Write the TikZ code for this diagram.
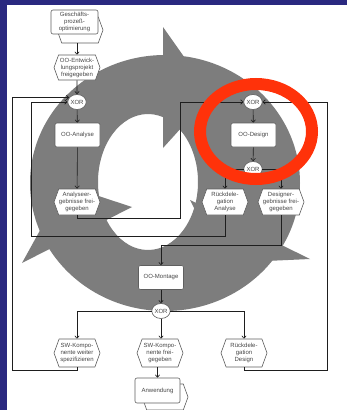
\documentclass[tikz,border=0pt]{standalone}
\usepackage{fontspec}
\setmainfont{Liberation Sans}
\usetikzlibrary{shapes.symbols,shapes.geometric,arrows.meta,calc}

\definecolor{bluebg}{RGB}{42,41,128}
\definecolor{cycgray}{RGB}{125,125,125}
\definecolor{boxline}{RGB}{95,95,95}
\definecolor{wire}{RGB}{30,30,30}
\definecolor{txt}{RGB}{70,70,70}
\definecolor{redring}{RGB}{255,50,10}

\begin{document}
\begin{tikzpicture}[x=1pt,y=-1pt,
  every node/.style={font=\fontsize{6}{7}\selectfont, text=txt, align=center, inner sep=0pt},
  func/.style={draw=boxline, fill=white, rounded corners=2pt, minimum width=45pt, minimum height=24pt, line width=0.6pt},
  event/.style={draw=boxline, fill=white, shape=signal, signal to=east and west, signal pointer angle=140, minimum width=46pt, minimum height=26pt, line width=0.6pt},
  xor/.style={draw=boxline, fill=white, ellipse, minimum width=18pt, minimum height=15pt, line width=0.6pt},
  link/.style={draw=wire, line width=0.6pt, -{Straight Barb[length=2.5pt,width=4.5pt]}}]

% frame
\useasboundingbox (0,0) rectangle (347,410);
\fill[bluebg] (0,0) rectangle (347,410);
\fill[white] (7,5) rectangle (347,410);

% cycle of three arrows behind the process chain
\fill[cycgray, even odd rule] (165,183) ellipse [x radius=135pt, y radius=128pt]
  (148,182) ellipse [x radius=50pt, y radius=68pt];
\fill[cycgray] (163,27) -- (211,95) -- (163,148) -- cycle;
\fill[cycgray] (310,259) -- (190,200) -- (222,263) -- cycle;
\fill[cycgray] (22,263) -- (132,207) -- (65,185) -- cycle;

% process interfaces
\node[event] (gpoH) at (80,30) {};
\node[func, minimum width=47pt] (gpo) at (74.5,22) {Geschäfts-\\prozeß-\\optimierung};
\node[event] (anwH) at (165,397) {};
\node[func, minimum height=25pt] (anw) at (157.5,390.5) {Anwendung};

% events and functions
\node[event, minimum height=25pt] (entw) at (77,67.5) {OO-Entwick-\\lungsprojekt\\freigegeben};
\node[xor] (xorL) at (77,102) {XOR};
\node[func] (ana) at (77.5,135) {OO-Analyse};
\node[event] (anaErg) at (77,202) {Analyseer-\\gebnisse frei-\\gegeben};
\node[xor] (xorR) at (253,102) {XOR};
\node[func] (des) at (253.5,135) {OO-Design};
\node[xor] (xorD) at (253,169) {XOR};
\node[event] (rdA) at (225,202) {Rückdele-\\gation\\Analyse};
\node[event] (desErg) at (281,202) {Designer-\\gebnisse frei-\\gegeben};
\node[func] (mont) at (161,277.5) {OO-Montage};
\node[xor] (xorB) at (161,311) {XOR};
\node[event, minimum height=28pt] (swW) at (77,353) {SW-Kompo-\\nente weiter\\spezifizieren};
\node[event, minimum height=28pt] (swF) at (160,353) {SW-Kompo-\\nente frei-\\gegeben};
\node[event, minimum height=28pt] (rdD) at (244,353) {Rückdele-\\gation\\Design};

% bend points of the feedback lines
\coordinate (jA) at (180,218);
\coordinate (jL1) at (31,236);
\coordinate (jL2) at (12,370);
\coordinate (jR) at (327,370);
\coordinate (jB) at (161,245);

% control flow
\draw[link] (gpoH.south -| entw.north) -- (entw.north);
\draw[link] (entw) -- (xorL);
\draw[link] (xorL) -- (ana);
\draw[link] (ana) -- (anaErg);
\draw[link] (anaErg.south) |- (jA) |- (xorR.west);
\draw[link] (rdA.south) |- (jL1) |- (xorL.west);
\draw[link] (swW.south) |- (jL2) |- (xorL.150);
\draw[link] (rdD.south) |- (jR) |- (xorR.east);
\draw[link] (xorR) -- (des);
\draw[link] (des) -- (xorD);
\draw[link] (xorD.west) -| (rdA.north);
\draw[link] (xorD.east) -| (desErg.north);
\draw[link] (desErg.south) |- (jB) -- (mont.north);
\draw[link] (mont) -- (xorB);
\draw[link] (xorB.west) -| (swW.north);
\draw[link] (xorB.south) -- (xorB.south |- swF.north);
\draw[link] (xorB.east) -| (rdD.north);
\draw[link] (swF.south -| anw.north) -- (anw.north);

% highlight ring
\draw[redring, line width=12pt] (256,131.5) ellipse [x radius=56pt, y radius=47.5pt];
\end{tikzpicture}
\end{document}
